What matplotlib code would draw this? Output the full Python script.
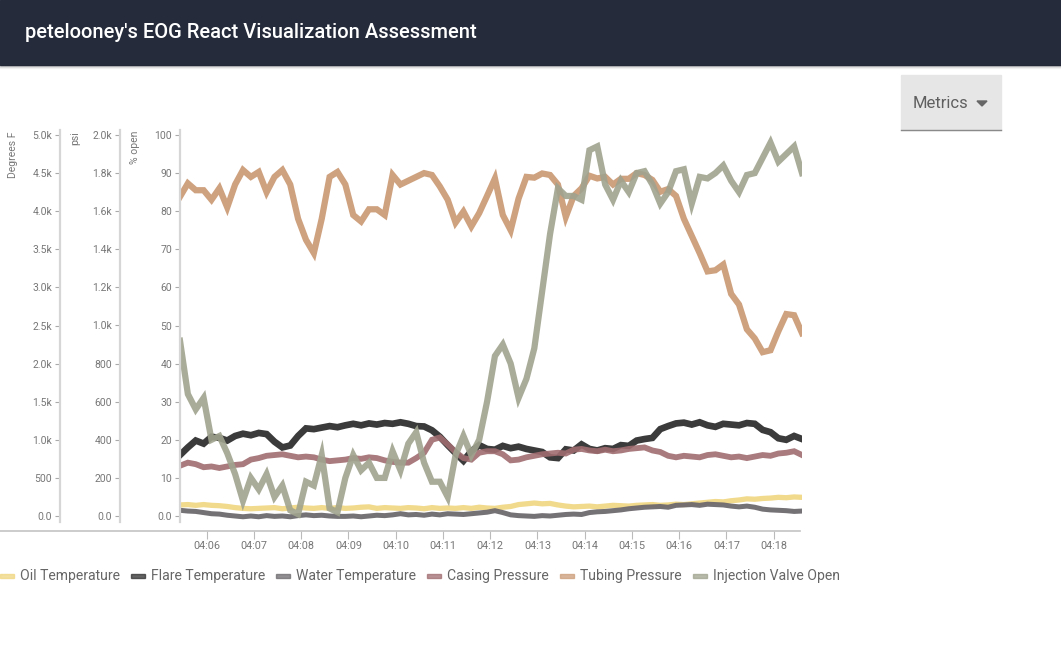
import numpy as np
import matplotlib.pyplot as plt
import matplotlib.dates as mdates
from matplotlib.patches import Rectangle, Polygon
from matplotlib.lines import Line2D

plt.rcParams['font.family'] = ['Roboto', 'DejaVu Sans']

# readings every 10 seconds, starting 04:05:26
start = np.datetime64('2020-01-01T04:05:26')
times = start + np.arange(80) * np.timedelta64(10, 's')

# Degrees F
oil_temp = [145, 150, 140, 150, 140, 135, 125, 110, 100, 95,
            100, 105, 110, 95, 105, 115, 105, 100, 110, 100,
            110, 100, 105, 115, 120, 100, 110, 105, 100, 110,
            105, 95, 110, 100, 105, 100, 110, 100, 115, 105,
            100, 115, 125, 150, 160, 170, 160, 165, 145, 130,
            120, 125, 130, 120, 130, 140, 135, 130, 140, 145,
            150, 140, 145, 155, 150, 160, 170, 180, 190, 185,
            200, 210, 225, 220, 230, 235, 245, 240, 250, 245]
flare_temp = [800, 900, 990, 950, 1040, 1025, 990, 1050, 1080, 1060,
              1090, 1075, 975, 900, 925, 1050, 1150, 1140, 1160, 1180,
              1165, 1190, 1210, 1190, 1215, 1200, 1220, 1210, 1230, 1210,
              1180, 1175, 1125, 1040, 930, 825, 725, 850, 930, 880,
              870, 920, 890, 910, 880, 860, 840, 770, 760, 875,
              860, 940, 880, 860, 890, 880, 930, 920, 990, 1010,
              1025, 1140, 1180, 1215, 1225, 1200, 1230, 1190, 1170, 1210,
              1200, 1190, 1220, 1210, 1130, 1100, 1020, 1000, 1050, 1010]
water_temp = [75, 65, 60, 45, 30, 25, 10, 0, -10, 0,
              -10, 5, -5, 0, -10, 5, 15, 5, 10, 0,
              -5, -5, 0, -10, 0, 10, 5, 15, 30, 15,
              20, 10, 25, 15, 30, 25, 20, 30, 40, 50,
              70, 45, 15, 5, 0, -5, 5, 0, 10, 20,
              25, 20, 45, 55, 60, 70, 80, 95, 105, 115,
              120, 125, 115, 140, 145, 150, 140, 155, 150, 145,
              130, 120, 130, 115, 90, 80, 75, 70, 60, 65]
# psi
casing_pressure = [264, 280, 272, 256, 260, 252, 260, 268, 272, 296,
                   304, 316, 320, 324, 316, 308, 312, 308, 296, 288,
                   292, 296, 304, 300, 308, 304, 292, 284, 280, 280,
                   304, 332, 400, 412, 376, 336, 304, 296, 332, 340,
                   340, 324, 292, 296, 308, 316, 324, 328, 332, 328,
                   348, 352, 344, 340, 348, 340, 344, 352, 356, 360,
                   344, 336, 316, 308, 316, 312, 308, 320, 324, 316,
                   308, 312, 304, 312, 320, 316, 328, 332, 340, 320]
tubing_pressure = [1676, 1746, 1710, 1710, 1660, 1720, 1620, 1740, 1816, 1780,
                   1806, 1700, 1780, 1816, 1740, 1560, 1450, 1380, 1560, 1780,
                   1806, 1740, 1580, 1546, 1610, 1610, 1580, 1790, 1740, 1760,
                   1780, 1800, 1790, 1730, 1660, 1540, 1598, 1520, 1590, 1680,
                   1772, 1580, 1500, 1666, 1780, 1776, 1798, 1790, 1740, 1570,
                   1680, 1720, 1786, 1772, 1780, 1740, 1770, 1770, 1800, 1790,
                   1764, 1702, 1716, 1680, 1560, 1470, 1380, 1284, 1290, 1320,
                   1166, 1110, 980, 932, 860, 870, 970, 1060, 1054, 960]
# % open
injection_valve = [46, 32, 28, 31, 20, 21, 16.5, 11, 4, 10,
                   7, 11, 5, 8, 1.5, 0.5, 9, 8, 16, 2,
                   1, 10, 16, 12, 14, 10, 10, 17, 12, 19,
                   22, 14, 9, 9, 5, 16, 21, 16, 20, 30,
                   42, 45, 40, 31, 36, 44, 59, 74, 86, 84,
                   84, 83, 96, 97, 87, 83, 88, 85, 90, 90.5,
                   87, 82, 85, 90.5, 91, 82, 89, 88.6, 90, 92,
                   88, 85, 89.5, 90, 94, 98, 93, 95, 97, 90]

names = ['Oil Temperature', 'Flare Temperature', 'Water Temperature',
         'Casing Pressure', 'Tubing Pressure', 'Injection Valve Open']
colors = ['#f0d680', '#303030', '#6e6a6e', '#a06c70', '#cc9c78', '#a0a38e']

temp_ticks = [0, 500, 1000, 1500, 2000, 2500, 3000, 3500, 4000, 4500, 5000]
temp_labels = ['0.0', '500', '1.0k', '1.5k', '2.0k', '2.5k', '3.0k', '3.5k', '4.0k', '4.5k', '5.0k']
psi_ticks = [0, 200, 400, 600, 800, 1000, 1200, 1400, 1600, 1800, 2000]
psi_labels = ['0.0', '200', '400', '600', '800', '1.0k', '1.2k', '1.4k', '1.6k', '1.8k', '2.0k']
pct_ticks = [0, 10, 20, 30, 40, 50, 60, 70, 80, 90, 100]
pct_labels = ['0.0', '10', '20', '30', '40', '50', '60', '70', '80', '90', '100']

W, H = 1061, 654


def fx(px):
    return px / W


def fy(py):
    return 1 - py / H


fig = plt.figure(figsize=(W / 100, H / 100), dpi=100)

# header bar
fig.patches.append(Rectangle((0, fy(65)), 1, 65 / H, color='#252b3a', transform=fig.transFigure, zorder=0))
for k, a in enumerate([0.18, 0.09, 0.04]):
    fig.add_artist(Line2D([0, 1], [fy(66 + k)] * 2, color='#000000', alpha=a, lw=1))
fig.text(fx(25), fy(33), "petelooney's EOG React Visualization Assessment", color='white',
         fontsize=14.5, fontweight='medium', va='center', ha='left')

# metrics dropdown
fig.patches.append(Rectangle((fx(901), fy(130)), fx(100), 55 / H, color='#e6e6e6', transform=fig.transFigure))
fig.add_artist(Line2D([fx(901), fx(1001)], [fy(130)] * 2, color='#8a8a8a', lw=1))
fig.text(fx(913), fy(103), 'Metrics', color='#5f5f5f', fontsize=12, va='center', ha='left')
fig.patches.append(Polygon([(fx(977), fy(101)), (fx(987), fy(101)), (fx(982), fy(106))],
                           closed=True, color='#666666', transform=fig.transFigure))

# chart
ax_t = fig.add_axes([fx(180), fy(522), fx(802) - fx(180), fy(130) - fy(522)])
ax_p = ax_t.twinx()
ax_v = ax_t.twinx()

ax_t.set_ylim(-78.7, 5065.6)
ax_p.set_ylim(-31.5, 2026.2)
ax_v.set_ylim(-1.57, 101.31)


def style_y(a, offset_pt, ticks, labels):
    a.yaxis.set_ticks_position('left')
    a.yaxis.set_label_position('left')
    for s in ('top', 'right'):
        a.spines[s].set_visible(False)
    a.spines['left'].set_visible(True)
    a.spines['left'].set_position(('outward', offset_pt))
    a.spines['left'].set_color('#d6d6d6')
    a.spines['left'].set_linewidth(1.6)
    a.set_yticks(ticks)
    a.set_yticklabels(labels)
    a.tick_params(axis='y', length=3.6, width=0.8, color='#aaaaaa',
                  labelsize=7.5, labelcolor='#777777', pad=2)


style_y(ax_t, 86.4, temp_ticks, temp_labels)
style_y(ax_p, 43.2, psi_ticks, psi_labels)
style_y(ax_v, 0, pct_ticks, pct_labels)
ax_p.spines['bottom'].set_visible(False)
ax_v.spines['bottom'].set_visible(False)

ax_t.plot(times, oil_temp, color=colors[0], lw=3.8, alpha=0.9, solid_joinstyle='miter')
ax_t.plot(times, flare_temp, color=colors[1], lw=4.8, alpha=0.95, solid_joinstyle='miter')
ax_t.plot(times, water_temp, color=colors[2], lw=3.6, alpha=0.95, solid_joinstyle='miter')
ax_p.plot(times, casing_pressure, color=colors[3], lw=4.2, alpha=0.9, solid_joinstyle='miter')
ax_p.plot(times, tubing_pressure, color=colors[4], lw=4.5, alpha=0.95, solid_joinstyle='miter')
ax_v.plot(times, injection_valve, color=colors[5], lw=4.5, alpha=0.9, solid_joinstyle='miter')

ax_t.set_xlim(times[0], times[-1])
ax_t.xaxis.set_major_locator(mdates.MinuteLocator())
ax_t.xaxis.set_major_formatter(mdates.DateFormatter('%H:%M'))
ax_t.spines['bottom'].set_position(('outward', 6.5))
ax_t.spines['bottom'].set_color('none')
ax_t.tick_params(axis='x', length=6, width=0.8, color='#bbbbbb', labelsize=7.8,
                 labelcolor='#777777', pad=1.5)
fig.add_artist(Line2D([0, fx(800)], [fy(531)] * 2, color='#c4c4c4', lw=1.2))

# axis titles
fig.text(fx(13.5), fy(131), 'Degrees F', rotation=90, ha='center', va='top', fontsize=7.5, color='#777777')
fig.text(fx(75.5), fy(131), 'psi', rotation=90, ha='center', va='top', fontsize=7.5, color='#777777')
fig.text(fx(135), fy(131), '% open', rotation=90, ha='center', va='top', fontsize=7.5, color='#777777')

# legend row
renderer = fig.canvas.get_renderer()
x = 0
for name, c in zip(names, colors):
    fig.patches.append(Rectangle((fx(x), fy(578)), fx(14), 4 / H, color=c, alpha=0.75,
                                 transform=fig.transFigure))
    t = fig.text(fx(x + 20), fy(576), name, ha='left', va='center', fontsize=10.1, color='#666666')
    bb = t.get_window_extent(renderer)
    x = bb.x1 + 11

fig.savefig('out.png', dpi=100)
